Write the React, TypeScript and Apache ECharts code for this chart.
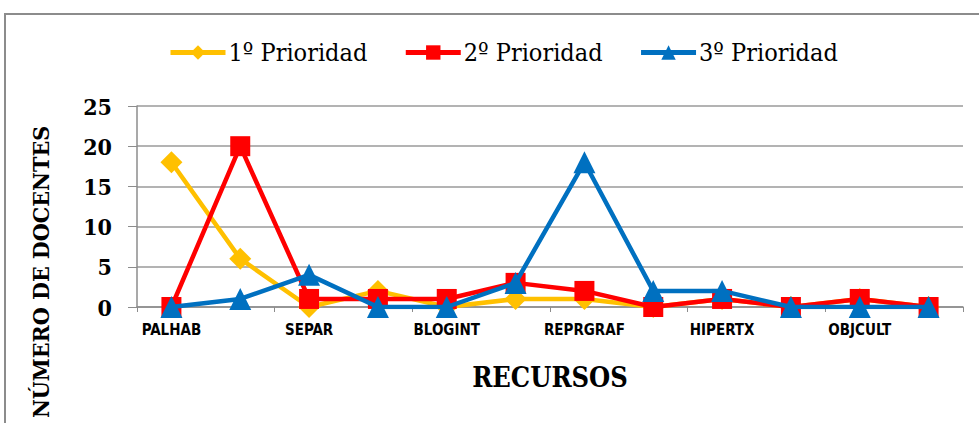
import React, { useEffect, useRef } from "react";
import * as echarts from "echarts";

const categories = [
  "PALHAB", "MAPCONC", "SEPAR", "VIDEO", "BLOGINT", "PRESENT",
  "REPRGRAF", "SIMUL", "HIPERTX", "JUEGOS", "OBJCULT", "OTROS",
];
const yTicks = [0, 5, 10, 15, 20, 25];
const prioridad1 = [18, 6, 0, 2, 0, 1, 1, 0, 1, 0, 1, 0];
const prioridad2 = [0, 20, 1, 1, 1, 3, 2, 0, 1, 0, 1, 0];
const prioridad3 = [0, 1, 4, 0, 0, 3, 18, 2, 2, 0, 0, 0];

const seriesNames = ["1º Prioridad", "2º Prioridad", "3º Prioridad"];
const colors = ["#FFC000", "#FF0000", "#0070C0"];
const symbols = ["diamond", "rect", "triangle"];
const symbolSizes = [22, 20, 22];

const SERIF = "'DejaVu Serif Condensed', 'DejaVu Serif', serif";
const SANS = "'DejaVu Sans Condensed', 'DejaVu Sans', sans-serif";

export default function App() {
  const ref = useRef<HTMLDivElement>(null);
  useEffect(() => {
    if (!ref.current) return;
    const chart = echarts.init(ref.current, undefined, { renderer: "svg" });
    const data = [prioridad1, prioridad2, prioridad3];
    chart.setOption({
      animation: false,
      backgroundColor: "#ffffff",
      legend: {
        top: 35,
        left: 163,
        itemWidth: 55,
        itemHeight: 18,
        itemGap: 36,
        lineStyle: { width: 5 },
        textStyle: { fontFamily: SERIF, fontSize: 25, color: "#000", padding: [0, 0, 0, -2] },
        data: seriesNames,
      },
      grid: { left: 137, right: 16, top: 106, bottom: 116 },
      xAxis: {
        type: "category",
        data: categories,
        boundaryGap: true,
        name: "RECURSOS",
        nameLocation: "middle",
        nameGap: 57,
        nameTextStyle: { fontFamily: SERIF, fontWeight: "bold", fontSize: 27, color: "#000" },
        axisLine: { lineStyle: { color: "#8c8c8c", width: 1.5 } },
        axisTick: { show: true, inside: false, length: 5, lineStyle: { color: "#8c8c8c" } },
        axisLabel: {
          interval: 1,
          margin: 15,
          fontFamily: SANS,
          fontWeight: "bold",
          fontSize: 15,
          color: "#000",
        },
      },
      yAxis: {
        type: "value",
        min: yTicks[0],
        max: yTicks[yTicks.length - 1],
        interval: 5,
        axisLine: { show: true, lineStyle: { color: "#8c8c8c", width: 1.5 } },
        axisTick: { show: true, length: 9, lineStyle: { color: "#8c8c8c" } },
        splitLine: { lineStyle: { color: "#9a9a9a", width: 1.5 } },
        axisLabel: {
          margin: 25,
          fontFamily: SERIF,
          fontWeight: "bold",
          fontSize: 23,
          color: "#000",
        },
      },
      graphic: [
        {
          type: "rect",
          shape: { x: 5, y: 14, width: 1100, height: 600 },
          style: { fill: "none", stroke: "#8c8c8c", lineWidth: 2 },
          silent: true,
        },
        {
          type: "text",
          x: 40,
          y: 272,
          rotation: Math.PI / 2,
          style: {
            text: "NÚMERO DE DOCENTES",
            fontFamily: SERIF,
            fontWeight: "bold",
            fontSize: 23,
            fill: "#000",
            align: "center",
            verticalAlign: "middle",
          },
        },
      ],
      series: seriesNames.map((name, i) => ({
        name,
        type: "line",
        data: data[i],
        symbol: symbols[i],
        symbolSize: symbolSizes[i],
        itemStyle: { color: colors[i] },
        lineStyle: { color: colors[i], width: 4.5 },
        z: 2 + i,
      })),
    });
    return () => chart.dispose();
  }, []);
  return (
    <div
      ref={ref}
      style={{ position: "absolute", left: 0, top: 0, width: 979, height: 423 }}
    />
  );
}
